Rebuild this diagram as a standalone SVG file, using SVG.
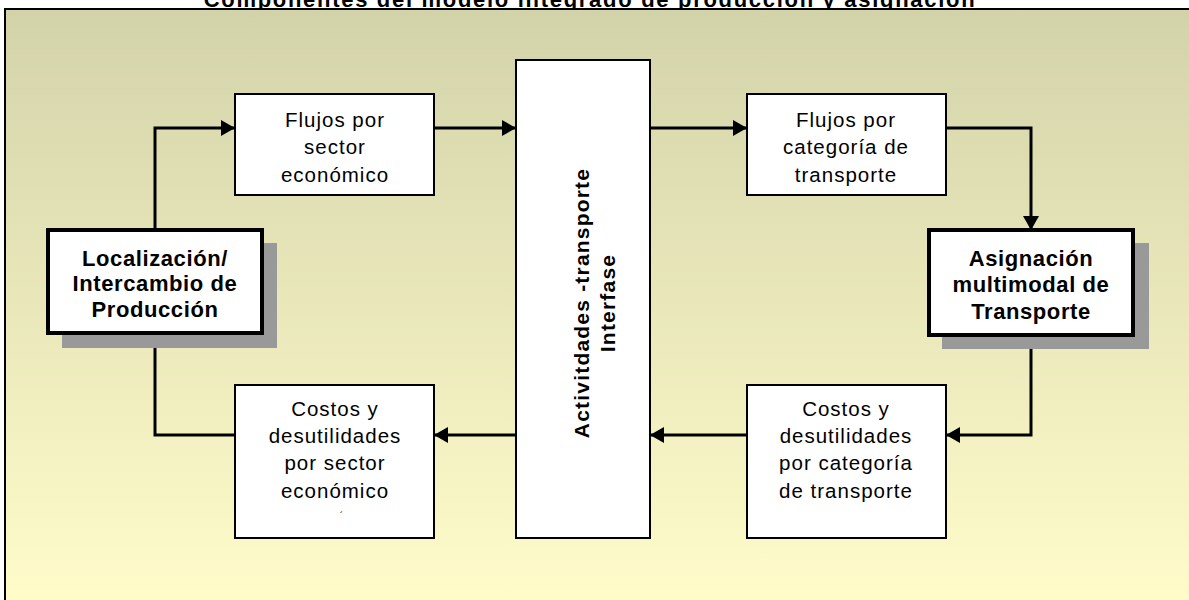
<svg xmlns="http://www.w3.org/2000/svg" width="1189" height="600" viewBox="0 0 1189 600">
  <defs>
    <linearGradient id="bg" gradientUnits="userSpaceOnUse" x1="0" y1="9" x2="0" y2="600">
      <stop offset="0" stop-color="#D3D3AA"/>
      <stop offset="1" stop-color="#FFFCCA"/>
    </linearGradient>
    <marker id="arr" markerUnits="userSpaceOnUse" markerWidth="14" markerHeight="16" refX="14" refY="8" orient="auto">
      <path d="M0,0 L14,8 L0,16 z" fill="#000"/>
    </marker>
    <style>
      .box { fill: #fff; stroke: #000; stroke-width: 2; }
      .kbox { fill: #fff; stroke: #000; stroke-width: 4; }
      .shadow { fill: #999; }
      .t { font-family: "Liberation Sans", Arial, sans-serif; font-size: 20.5px; letter-spacing: 1px; fill: #000; text-anchor: middle; }
      .b { font-family: "Liberation Sans", Arial, sans-serif; font-size: 22px; font-weight: bold; letter-spacing: 0.6px; fill: #000; text-anchor: middle; }
      .title { font-family: "Liberation Sans", Arial, sans-serif; font-size: 22px; font-weight: bold; letter-spacing: 1.7px; fill: #000; text-anchor: middle; }
      .vt { font-family: "Liberation Sans", Arial, sans-serif; font-size: 21px; font-weight: bold; letter-spacing: 1.2px; fill: #000; text-anchor: middle; }
      .conn { fill: none; stroke: #000; stroke-width: 3; marker-end: url(#arr); }
    </style>
  </defs>

  <rect x="0" y="0" width="1189" height="600" fill="#fff"/>
  <text class="title" x="590" y="7">Componentes del modelo integrado de producción y asignación</text>
  <rect x="5" y="9" width="1200" height="600" fill="url(#bg)" stroke="#000" stroke-width="2"/>

  <g id="connectors">
    <path class="conn" d="M155,230 V128 H235"/>
    <path class="conn" d="M434,128 H516"/>
    <path class="conn" d="M650,128 H747"/>
    <path class="conn" d="M946,128 H1031 V230"/>
    <path class="conn" d="M1031,335 V435 H946"/>
    <path class="conn" d="M747,435 H650"/>
    <path class="conn" d="M516,435 H434"/>
    <path class="conn" d="M235,435 H155 V333"/>
  </g>

  <g id="flujos-sector">
    <rect class="box" x="235" y="94" width="199" height="101"/>
    <text class="t" x="335" y="127">Flujos por</text>
    <text class="t" x="335" y="154">sector</text>
    <text class="t" x="335" y="182">económico</text>
  </g>

  <g id="interfase">
    <rect class="box" x="516" y="60" width="134" height="478"/>
    <text class="vt" transform="translate(589,303) rotate(-90)" x="0" y="0">Activitdades -transporte</text>
    <text class="vt" transform="translate(615,303) rotate(-90)" x="0" y="0">Interfase</text>
  </g>

  <g id="flujos-categoria">
    <rect class="box" x="747" y="94" width="199" height="101"/>
    <text class="t" x="846" y="127">Flujos por</text>
    <text class="t" x="846" y="154">categoría de</text>
    <text class="t" x="846" y="182">transporte</text>
  </g>

  <g id="localizacion">
    <rect class="shadow" x="62" y="243" width="215" height="105"/>
    <rect class="kbox" x="48" y="230" width="214" height="103"/>
    <text class="b" x="155" y="266">Localización/</text>
    <text class="b" x="155" y="291">Intercambio de</text>
    <text class="b" x="155" y="317">Producción</text>
  </g>

  <g id="asignacion">
    <rect class="shadow" x="942" y="243" width="207" height="106"/>
    <rect class="kbox" x="929" y="230" width="204" height="105"/>
    <text class="b" x="1031" y="266">Asignación</text>
    <text class="b" x="1031" y="292">multimodal de</text>
    <text class="b" x="1031" y="319">Transporte</text>
  </g>

  <g id="costos-sector">
    <rect class="box" x="235" y="385" width="199" height="153"/>
    <text class="t" x="335" y="416">Costos y</text>
    <text class="t" x="335" y="443">desutilidades</text>
    <text class="t" x="335" y="470">por sector</text>
    <text class="t" x="335" y="498">económico</text>
    <text class="t" x="342" y="520" style="font-size:10px">´</text>
  </g>

  <g id="costos-categoria">
    <rect class="box" x="747" y="385" width="199" height="153"/>
    <text class="t" x="846" y="416">Costos y</text>
    <text class="t" x="846" y="443">desutilidades</text>
    <text class="t" x="846" y="470">por categoría</text>
    <text class="t" x="846" y="498">de transporte</text>
  </g>
</svg>
